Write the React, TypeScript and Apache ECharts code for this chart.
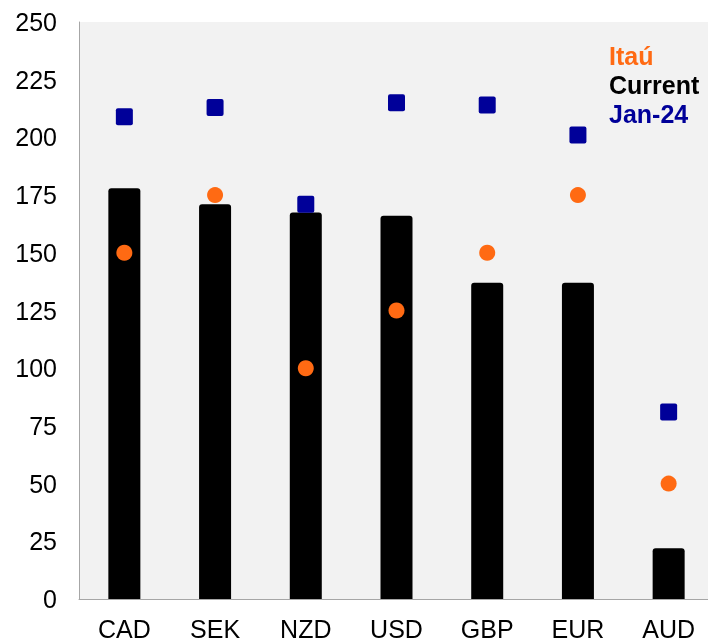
import React, { useEffect, useRef } from "react";
import * as echarts from "echarts";

const categories = ["CAD", "SEK", "NZD", "USD", "GBP", "EUR", "AUD"];
const currentValues = [178, 171, 167.5, 166, 137, 137, 22];
const itauValues = [150, 175, 100, 125, 150, 175, 50];
const jan24Values = [209, 213, 171, 215, 214, 201, 81];
const yTicks = { min: 0, max: 250, interval: 25 };

const FONT = "'Liberation Sans', Arial, sans-serif";
const SQUARE =
  "path://M2,0 H15 Q17,0 17,2 V15 Q17,17 15,17 H2 Q0,17 0,15 V2 Q0,0 2,0 Z";

export default function App() {
  const ref = useRef<HTMLDivElement>(null);
  useEffect(() => {
    if (!ref.current) return;
    const chart = echarts.init(ref.current, null, { renderer: "svg" });
    chart.setOption({
      animation: false,
      grid: {
        left: 79,
        top: 22,
        width: 635,
        height: 577,
        show: true,
        backgroundColor: "#f2f2f2",
        borderWidth: 0,
        outerBoundsMode: "none",
        containLabel: false,
      },
      xAxis: {
        type: "category",
        data: categories,
        axisLine: { show: true, lineStyle: { color: "#a6a6a6", width: 1 } },
        axisTick: { show: false },
        axisLabel: { color: "#000", fontSize: 25, fontFamily: FONT, margin: 17 },
      },
      yAxis: {
        type: "value",
        min: yTicks.min,
        max: yTicks.max,
        interval: yTicks.interval,
        axisLine: { show: true, lineStyle: { color: "#a6a6a6", width: 1 } },
        axisTick: { show: false },
        splitLine: { show: false },
        axisLabel: { color: "#000", fontSize: 25, fontFamily: FONT, margin: 22 },
      },
      series: [
        {
          name: "Current",
          type: "bar",
          data: currentValues,
          barWidth: 32,
          itemStyle: { color: "#000", borderRadius: [3, 3, 0, 0] },
          z: 1,
        },
        {
          name: "Itaú",
          type: "scatter",
          data: itauValues,
          symbol: "circle",
          symbolSize: 16,
          itemStyle: { color: "#ff6a13", opacity: 1 },
          z: 3,
        },
        {
          name: "Jan-24",
          type: "scatter",
          data: jan24Values,
          symbol: SQUARE,
          symbolSize: 17,
          itemStyle: { color: "#000099", opacity: 1 },
          z: 3,
        },
      ],
      graphic: [
        {
          type: "text",
          left: 609,
          top: 43,
          style: { text: "Itaú", fill: "#ff6a13", font: `bold 25px ${FONT}` },
        },
        {
          type: "text",
          left: 609,
          top: 72,
          style: { text: "Current", fill: "#000", font: `bold 25px ${FONT}` },
        },
        {
          type: "text",
          left: 609,
          top: 101,
          style: { text: "Jan-24", fill: "#000099", font: `bold 25px ${FONT}` },
        },
      ],
    });
    return () => chart.dispose();
  }, []);
  return (
    <div
      ref={ref}
      style={{ position: "fixed", left: 0, top: 0, width: 716, height: 638 }}
    />
  );
}
